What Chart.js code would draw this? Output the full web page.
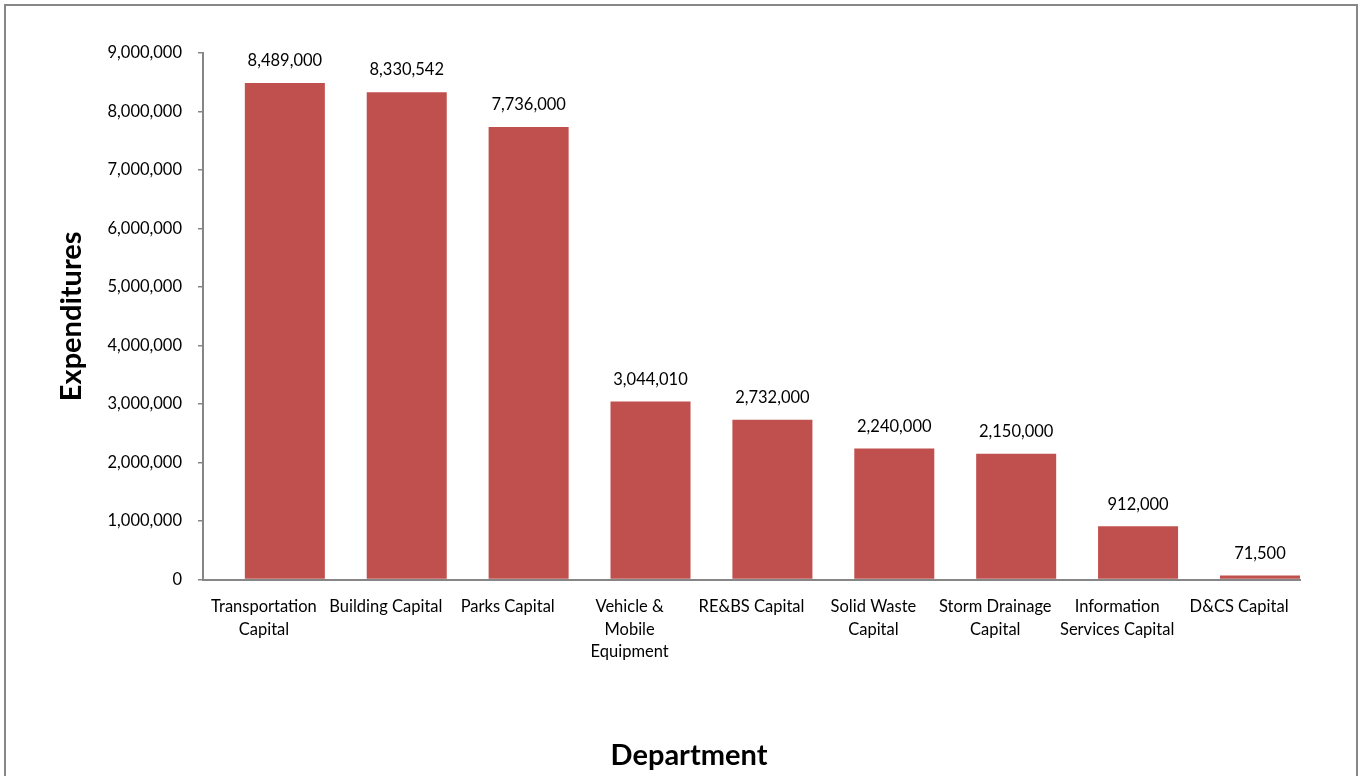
<!DOCTYPE html>
<html>
<head>
<meta charset="utf-8">
<script src="https://cdn.jsdelivr.net/npm/chart.js@4.4.1/dist/chart.umd.min.js"></script>
<style>
  html, body { margin: 0; padding: 0; background: #fff; overflow: hidden; }
  #wrap {
    position: absolute; left: 4px; top: 4px;
    width: 1350px; height: 776px;
    border: 2px solid #878787;
  }
</style>
</head>
<body>
<div id="wrap"><canvas id="expchart"></canvas></div>
<script>
var departments = [
    ['Transportation', 'Capital'],
    'Building Capital',
    'Parks Capital',
    ['Vehicle &', 'Mobile', 'Equipment'],
    'RE&BS Capital',
    ['Solid Waste', 'Capital'],
    ['Storm Drainage', 'Capital'],
    ['Information', 'Services Capital'],
    'D&CS Capital'
];
var expenditures = [8489000, 8330542, 7736000, 3044010, 2732000, 2240000, 2150000, 912000, 71500];
// the original sheet has an empty second series that pushes the bars to the right of each slot
var emptySeries = [null, null, null, null, null, null, null, null, null];
var yMin = 0, yMax = 9000000, yStep = 1000000;

var fontName = 'Lato';
Chart.defaults.font.family = fontName;
Chart.defaults.color = '#000';

// value labels over each bar
var barLabels = {
    id: 'barLabels',
    afterDatasetsDraw: function (chart) {
        var ctx = chart.ctx;
        var meta = chart.getDatasetMeta(1);
        ctx.save();
        ctx.font = '16.5px ' + fontName;
        ctx.fillStyle = '#000';
        ctx.textAlign = 'center';
        ctx.textBaseline = 'middle';
        meta.data.forEach(function (bar, i) {
            ctx.fillText(expenditures[i].toLocaleString('en-US'), bar.x, bar.y - 22);
        });
        ctx.restore();
    }
};

var ctx = document.getElementById('expchart');
var chart = new Chart(ctx, {
    type: 'bar',
    data: {
        labels: departments,
        datasets: [{
            data: emptySeries,
            backgroundColor: 'rgba(0,0,0,0)',
            categoryPercentage: 0.686,
            barPercentage: 1.914
        }, {
            data: expenditures,
            backgroundColor: '#C0504D',
            borderWidth: 0,
            categoryPercentage: 0.686,
            barPercentage: 1.914
        }]
    },
    options: {
        responsive: true,
        maintainAspectRatio: false,
        animation: false,
        layout: { padding: { top: 47, right: 0, left: 16, bottom: 0 } },
        plugins: {
            legend: { display: false },
            tooltip: { enabled: false },
            title: {
                display: true,
                position: 'bottom',
                text: 'Department',
                color: '#000',
                font: { size: 29, weight: 'bold', lineHeight: 1.2 },
                padding: { top: 0, bottom: 9 }
            }
        },
        scales: {
            x: {
                grid: { display: false },
                border: { display: true, color: '#868686', width: 2 },
                ticks: {
                    autoSkip: false,
                    maxRotation: 0,
                    padding: 8,
                    font: { size: 16.5, lineHeight: 1.36 }
                },
                afterFit: function (scale) { scale.height = 158.6; }
            },
            y: {
                min: yMin,
                max: yMax,
                grid: { drawOnChartArea: false, drawTicks: true, tickLength: 5, color: '#868686', lineWidth: 1.5 },
                border: { display: true, color: '#868686', width: 2 },
                ticks: {
                    stepSize: yStep,
                    padding: 16,
                    font: { size: 16.5 },
                    callback: function (v) { return v.toLocaleString('en-US'); }
                },
                title: {
                    display: true,
                    text: 'Expenditures',
                    color: '#000',
                    font: { size: 29, weight: 'bold', lineHeight: 1.2 },
                    padding: { top: 32, bottom: 0 }
                },
                afterFit: function (scale) { scale.width = 181; }
            },
            // blank strip on the right, keeps the plot short of the frame
            yRight: {
                position: 'right',
                grid: { display: false },
                border: { display: false },
                ticks: { display: false },
                afterFit: function (scale) { scale.width = 56; }
            }
        }
    },
    plugins: [barLabels]
});
</script>
</body>
</html>
